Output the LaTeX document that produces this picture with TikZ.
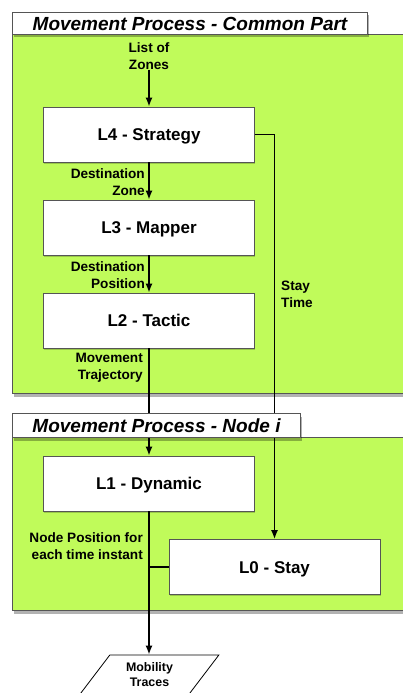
\documentclass[tikz,border=0pt]{standalone}
\usepackage{fontspec}
\setmainfont{Liberation Sans}
\usetikzlibrary{arrows.meta,shapes.geometric,shadows}
\definecolor{lime}{RGB}{192,251,90}
\definecolor{edgegray}{RGB}{85,85,85}
\begin{document}
\begin{tikzpicture}[x=1pt,y=-1pt,
  container/.style={draw=edgegray, line width=1pt, fill=lime, anchor=north west, inner sep=0pt,
    minimum width=393pt,
    drop shadow={shadow xshift=1pt, shadow yshift=-3pt, opacity=0.3, fill=black}},
  tabbox/.style={draw=edgegray, line width=1pt, fill=white, anchor=north west, inner sep=0pt,
    font=\bfseries\itshape\fontsize{19}{22}\selectfont, text height=13.7pt, text depth=0pt,
    drop shadow={shadow xshift=1pt, shadow yshift=-3pt, opacity=0.3, fill=black}},
  stepbox/.style={draw=edgegray, line width=0.8pt, fill=white, inner sep=0pt,
    minimum width=211pt, minimum height=55pt,
    font=\bfseries\fontsize{17}{20}\selectfont, text height=12.2pt, text depth=0pt,
    drop shadow={shadow xshift=0.5pt, shadow yshift=-1.5pt, opacity=0.2, fill=black}},
  lab/.style={font=\bfseries\fontsize{13.6}{17}\selectfont, inner sep=0pt},
  flow/.style={line width=1.5pt, draw=black},
  arr/.style={flow, -{Latex[length=9pt,width=7pt]}}
]
\useasboundingbox (0,0) rectangle (403,693);

% containers
\node[container, minimum height=359pt] (common) at (12,34) {};
\node[container, minimum height=173pt] (nodei) at (12,437) {};

% step boxes
\node[stepbox] (L4) at (149,134.5) {L4 - Strategy};
\node[stepbox] (L3) at (149,227.5) {L3 - Mapper};
\node[stepbox] (L2) at (149,320.5) {L2 - Tactic};
\node[stepbox] (L1) at (149,483.5) {L1 - Dynamic};
\node[stepbox] (L0) at (274.5,567) {L0 - Stay};

% output
\node[trapezium, trapezium left angle=54, trapezium right angle=126, trapezium stretches=true,
  minimum width=139pt, minimum height=39pt, inner sep=0pt, draw=black, line width=0.8pt, fill=white,
  font=\bfseries\fontsize{12.4}{15}\selectfont, align=center] (mt) at (149.5,674.5) {Mobility\\Traces};

% labels
\node[lab, align=center] (lz) at (149,56) {List of\\Zones};
\node[lab, align=right, anchor=east] (dz) at (145,182.5) {Destination\\Zone};
\node[lab, align=right, anchor=east] (dp) at (145,275.5) {Destination\\Position};
\node[lab, align=right, anchor=east] (mtr) at (143,367.5) {Movement\\Trajectory};
\node[lab, align=left, anchor=west] (st) at (281,294.5) {Stay\\Time};
\node[lab, align=right, anchor=east] (np) at (143,546.5) {Node Position for\\each time instant};

% connectors
\draw[arr] (lz.south -| L4.north) -- (L4.north);
\draw[arr] (L4.south) -- (L3.north);
\draw[arr] (L3.south) -- (L2.north);
\draw[arr] (L2.south) -- (L1.north);
\draw[arr] (L4.east) -| (L0.north);
\draw[arr] (L1.south) -- (mt.north -| L1.south);
\coordinate (join) at (L1.south |- L0.west);
\draw[flow] (L0.west) -- (join);

% tabs on top
\node[tabbox, minimum width=355pt, minimum height=22pt] (tab1) at (12,12) {Movement Process - Common Part};
\node[tabbox, minimum width=288pt, minimum height=24pt] (tab2) at (12,413) {Movement Process - Node \textit{i}};
\end{tikzpicture}
\end{document}
